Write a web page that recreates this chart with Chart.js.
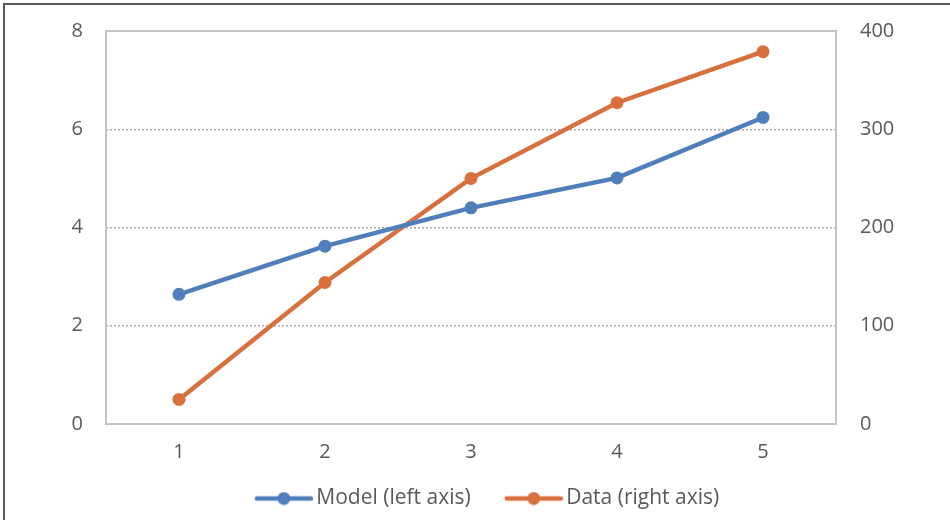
<!DOCTYPE html>
<html>
<head>
<meta charset="utf-8">
<script src="https://cdn.jsdelivr.net/npm/chart.js@4"></script>
<style>
  html, body { margin: 0; padding: 0; background: #fff; }
  #wrap { position: relative; width: 950px; height: 520px; }
</style>
</head>
<body>
<div id="wrap"><canvas id="lineChart" width="950" height="520"></canvas></div>
<script>
// chart values
let categories = ["1", "2", "3", "4", "5"];
let modelValues = [2.64, 3.62, 4.40, 5.01, 6.24];
let dataValues = [25, 144, 250, 327, 379];
let leftTicks = [0, 2, 4, 6, 8];
let rightTicks = [0, 100, 200, 300, 400];

let blue = "#4f7fbb";
let orange = "#d8703e";
let textColor = "#595959";
let fontFamily = "'Open Sans', sans-serif";

// line + dot marker for the legend, with some empty room on the left
// so the items get spread apart like the original
function legendMarker(color) {
  let c = document.createElement("canvas");
  c.width = 89;
  c.height = 14;
  let g = c.getContext("2d");
  g.strokeStyle = color;
  g.lineWidth = 4.5;
  g.lineCap = "round";
  g.beginPath();
  g.moveTo(33, 7);
  g.lineTo(87, 7);
  g.stroke();
  g.fillStyle = color;
  g.beginPath();
  g.arc(60, 7, 6.5, 0, Math.PI * 2);
  g.fill();
  return c;
}
let markers = [legendMarker(blue), legendMarker(orange)];

// outer frame + plot area border
let framePlugin = {
  id: "frame",
  beforeDraw(chart) {
    let ctx = chart.ctx;
    ctx.save();
    ctx.strokeStyle = "#5a5a5a";
    ctx.lineWidth = 2;
    ctx.beginPath();
    ctx.moveTo(4, 520);
    ctx.lineTo(4, 4);
    ctx.lineTo(950, 4);
    ctx.stroke();
    ctx.restore();
  },
  beforeDatasetsDraw(chart) {
    let a = chart.chartArea;
    let ctx = chart.ctx;
    ctx.save();
    ctx.strokeStyle = "#c4c4c4";
    ctx.lineWidth = 2;
    ctx.strokeRect(a.left, a.top, a.right - a.left, a.bottom - a.top);
    ctx.restore();
  }
};

// fixed width for the y axes, and no extra label padding above/below
function fixWidth(w) {
  return function(scale) {
    scale.width = w;
    scale.paddingTop = 0;
    scale.paddingBottom = 0;
  };
}

let ctx = document.getElementById("lineChart").getContext("2d");
let chart = new Chart(ctx, {
  type: "line",
  data: {
    labels: categories,
    datasets: [
      {
        label: "Model (left axis)",
        data: modelValues,
        yAxisID: "yLeft",
        borderColor: blue,
        backgroundColor: blue,
        borderWidth: 4.5,
        pointRadius: 6.5,
        pointHoverRadius: 6.5,
        pointBorderWidth: 0,
        tension: 0
      },
      {
        label: "Data (right axis)",
        data: dataValues,
        yAxisID: "yRight",
        borderColor: orange,
        backgroundColor: orange,
        borderWidth: 4.5,
        pointRadius: 6.5,
        pointHoverRadius: 6.5,
        pointBorderWidth: 0,
        tension: 0
      }
    ]
  },
  options: {
    responsive: false,
    animation: false,
    devicePixelRatio: 1,
    layout: { padding: { top: 31, left: 0, right: 0, bottom: 1 } },
    scales: {
      x: {
        offset: true,
        grid: { display: false },
        border: { display: false },
        ticks: { color: textColor, font: { size: 20, family: fontFamily }, padding: 8 },
        afterFit(scale) { scale.height = 54; }
      },
      yLeft: {
        position: "left",
        min: 0,
        max: 8,
        afterBuildTicks(scale) { scale.ticks = leftTicks.map(v => ({ value: v })); },
        grid: { color: "#a8a8a8", lineWidth: 1.5, tickLength: 0, drawTicks: false },
        border: { display: false, dash: [2, 2] },
        ticks: { color: textColor, font: { size: 20, family: fontFamily }, padding: 23 },
        afterFit: fixWidth(106)
      },
      yRight: {
        position: "right",
        min: 0,
        max: 400,
        afterBuildTicks(scale) { scale.ticks = rightTicks.map(v => ({ value: v })); },
        grid: { display: false },
        border: { display: false },
        ticks: { color: textColor, font: { size: 20, family: fontFamily }, padding: 16 },
        afterFit: fixWidth(114)
      }
    },
    plugins: {
      legend: {
        position: "bottom",
        labels: {
          color: textColor,
          font: { size: 21, family: fontFamily },
          usePointStyle: true,
          pointStyleWidth: 75,
          padding: 10,
          generateLabels(chart) {
            let items = Chart.defaults.plugins.legend.labels.generateLabels(chart);
            items.forEach((it, i) => { it.pointStyle = markers[i]; });
            return items;
          }
        }
      },
      tooltip: { enabled: false }
    }
  },
  plugins: [framePlugin]
});
</script>
</body>
</html>
